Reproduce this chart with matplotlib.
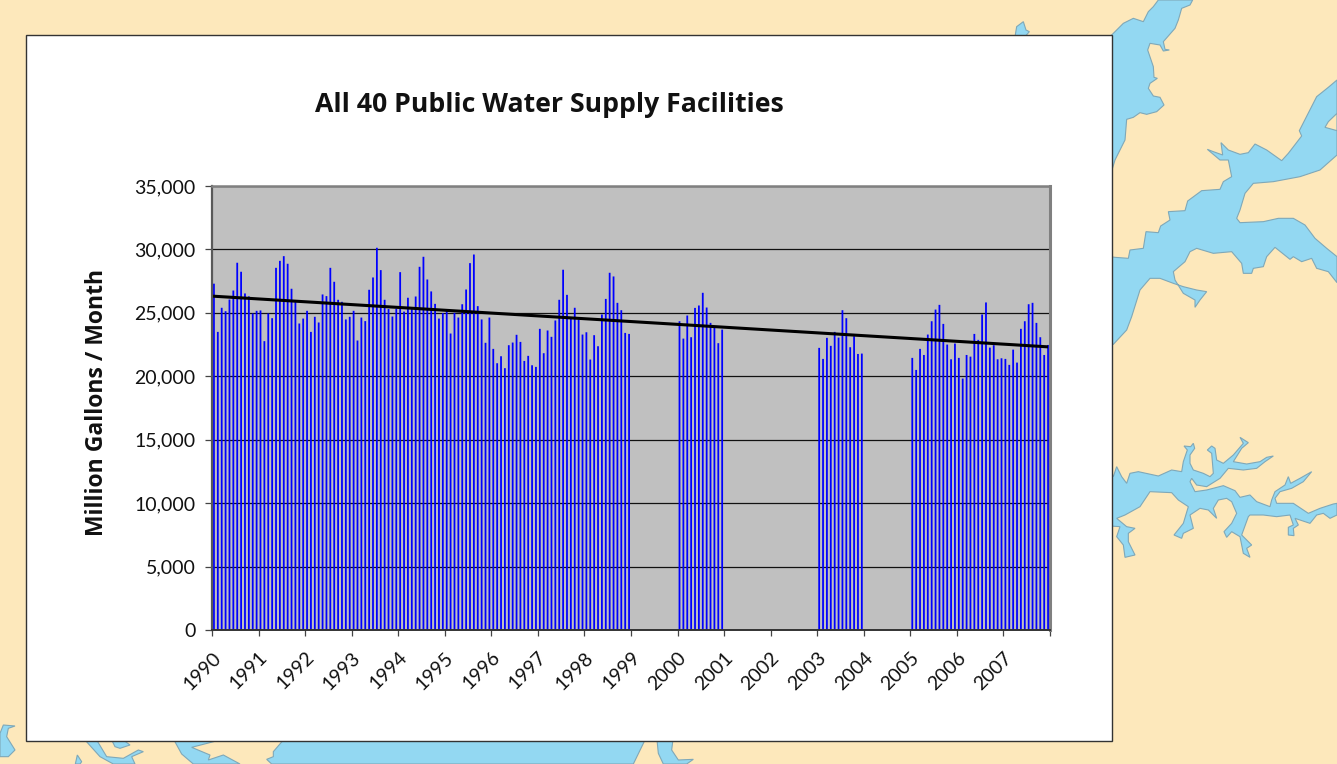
import matplotlib
matplotlib.use("Agg")
import matplotlib.pyplot as plt
from matplotlib.patches import Polygon, Rectangle

plt.rcParams["font.family"] = ["Lato", "DejaVu Sans"]

# Monthly totals, Million Gallons / Month
v1990 = [27300, 23500, 25400, 25130, 26050, 26760, 28950, 28240, 26530, 26300, 24950, 25160]
v1991 = [25190, 22770, 24950, 24580, 28550, 29100, 29470, 28870, 26900, 25850, 24160, 24550]
v1992 = [25160, 23500, 24690, 24240, 26450, 26320, 28550, 27450, 26030, 25870, 24480, 24690]
v1993 = [25160, 22820, 24630, 24350, 26820, 27790, 30130, 28370, 26030, 25300, 24710, 25320]
v1994 = [28210, 25100, 26190, 25290, 26290, 28630, 29420, 27630, 26690, 25710, 24550, 24980]
v1995 = [25160, 23370, 25000, 24630, 25680, 26840, 28920, 29600, 25530, 24480, 22640, 24630]
v1996 = [22160, 21030, 21580, 20640, 22450, 22660, 23270, 22710, 21210, 21610, 20870, 20740]
v1997 = [23740, 21820, 23610, 23110, 24400, 26030, 28400, 26420, 24530, 25400, 24480, 23290]
v1998 = [23470, 21320, 23240, 22370, 24870, 26100, 28160, 27870, 25790, 25210, 23420, 23340]
v2000 = [24340, 22970, 24790, 23080, 25390, 25580, 26580, 25420, 24210, 23820, 22610, 23680]
v2003 = [22240, 21370, 23030, 22400, 23500, 23050, 25210, 24580, 22290, 23160, 21760, 21790]
v2005 = [21450, 20500, 22160, 21680, 23290, 24340, 25260, 25630, 24130, 22500, 21340, 22580]
v2006 = [21450, 19820, 21680, 21550, 23340, 22870, 24870, 25820, 22260, 22450, 21340, 21420]
v2007 = [21370, 20900, 22100, 21080, 23740, 24340, 25680, 25790, 24210, 23080, 21680, 22470]

years = list(range(1990, 2008))
year_values = {1990: v1990, 1991: v1991, 1992: v1992, 1993: v1993, 1994: v1994, 1995: v1995,
               1996: v1996, 1997: v1997, 1998: v1998, 2000: v2000, 2003: v2003,
               2005: v2005, 2006: v2006, 2007: v2007}
y_ticks = [0, 5000, 10000, 15000, 20000, 25000, 30000, 35000]
trend_values = [26320, 22320]

WATER = "#93D8F2"
LAND = "#FDE8BB"
SHORE = "#7FA8B8"

upper_bay = [(330, 110), (370, 70), (400, 55), (430, 65), (445, 35), (460, 20), (475, 0), (578, 0), (570, 15),
             (545, 25), (535, 60), (525, 85), (490, 125), (495, 148), (508, 150), (490, 153), (480, 135), (450, 130),
             (443, 150), (460, 200), (462, 232), (472, 235), (450, 250), (445, 265), (460, 288), (480, 292), (492, 315),
             (470, 335), (440, 343), (420, 338), (400, 352), (380, 358), (375, 420), (345, 480), (330, 530)]
main_arm = [(330, 770), (345, 772), (385, 775), (390, 750), (430, 745), (438, 695), (475, 698), (482, 678), (510, 660),
            (505, 635), (555, 632), (563, 603), (605, 572), (660, 568), (670, 545), (695, 530), (685, 480), (660, 480),
            (622, 448), (640, 455), (668, 465), (663, 428), (685, 450), (720, 463), (745, 458), (765, 432), (800, 450),
            (845, 482), (865, 460), (905, 408), (898, 392), (950, 290), (985, 262), (1011, 240), (1011, 465), (960, 510),
            (900, 530), (820, 545), (760, 550), (735, 580), (720, 630), (710, 655), (720, 668), (790, 665), (835, 655),
            (880, 655), (915, 675), (945, 715), (980, 745), (1011, 770), (1011, 848), (985, 815), (950, 805), (935, 775),
            (905, 785), (880, 770), (870, 778), (825, 742), (800, 770), (790, 800), (760, 805), (755, 820), (730, 820),
            (725, 790), (695, 755), (640, 760), (590, 745), (570, 755), (555, 785), (520, 815), (525, 840), (550, 880),
            (585, 900), (585, 922), (600, 900), (620, 875), (590, 870), (550, 860), (520, 850), (480, 835), (450, 835),
            (420, 870), (395, 950), (380, 990), (340, 1033), (330, 1033)]
arm_island = [(1011, 340), (985, 365), (975, 382), (1011, 392)]
top_spot = [(45, 110), (50, 80), (70, 65), (78, 90), (88, 95), (75, 110)]
lower_lake = [(30, 145), (40, 170), (50, 140), (65, 170), (80, 190), (90, 160), (115, 155), (175, 168), (215, 150),
              (245, 155), (250, 125), (262, 90), (252, 78), (272, 80), (280, 70), (284, 85), (270, 105), (270, 130),
              (280, 150), (310, 160), (330, 170), (340, 160), (335, 100), (322, 90), (335, 78), (345, 85), (350, 120),
              (370, 130), (400, 105), (430, 70), (420, 52), (445, 68), (425, 85), (400, 125), (440, 132), (480, 125),
              (500, 112), (520, 108), (495, 125), (470, 145), (430, 150), (385, 145), (360, 175), (320, 200), (290, 195),
              (275, 175), (270, 185), (285, 215), (320, 210), (370, 197), (405, 212), (420, 232), (450, 225), (470, 245),
              (510, 260), (515, 240), (525, 215), (555, 195), (565, 170), (572, 190), (600, 175), (635, 155), (610, 185),
              (575, 205), (540, 215), (525, 235), (530, 250), (580, 250), (625, 280), (660, 265), (700, 252), (711, 250),
              (711, 285), (690, 295), (670, 280), (650, 285), (630, 310), (600, 300), (585, 295), (595, 315), (580, 325),
              (582, 347), (565, 345), (565, 322), (580, 315), (570, 285), (530, 290), (490, 285), (450, 285), (445, 290),
              (425, 345), (455, 375), (440, 385), (450, 412), (430, 400), (420, 350), (395, 335), (380, 352), (372, 335),
              (395, 310), (410, 280), (395, 245), (380, 235), (355, 240), (340, 265), (350, 295), (325, 270), (300, 265),
              (270, 285), (280, 325), (250, 340), (245, 355), (222, 345), (250, 310), (265, 260), (235, 240), (215, 218),
              (150, 215), (120, 260), (75, 285), (50, 295), (80, 320), (105, 325), (85, 340), (85, 365), (105, 405),
              (75, 412), (70, 375), (50, 350), (60, 320), (30, 318)]
hook = [(0, 400), (10, 375), (45, 378), (25, 385), (20, 410), (45, 450), (25, 470), (0, 470)]
creek_a = [(255, 420), (290, 420), (320, 470), (370, 475), (415, 450), (430, 455), (395, 470), (405, 492), (340, 492), (300, 470)]
creek_b = [(335, 420), (370, 420), (390, 435), (360, 445), (345, 440)]
creek_c = [(226, 492), (232, 465), (245, 485), (240, 492)]
south_bay = [(522, 420), (545, 462), (580, 492), (720, 492), (670, 465), (625, 480), (630, 465), (575, 442), (660, 420)]
south_main = [(850, 420), (820, 455), (820, 470), (800, 478), (815, 492), (1900, 492), (1935, 420)]
south_creek = [(770, 380), (820, 380), (815, 420), (835, 450), (880, 448), (860, 462), (790, 462), (775, 430)]


def crop_shape(points, x0, y0):
    return [(x0 + x / 3, y0 + y / 3) for x, y in points]


fig = plt.figure(figsize=(13.37, 7.64), dpi=100)

# Whole-figure axes in pixels for the map and the white panel
bg = fig.add_axes([0, 0, 1, 1])
bg.set_xlim(0, 1337)
bg.set_ylim(764, 0)
bg.axis("off")
bg.add_patch(Rectangle((0, 0), 1337, 764, facecolor=LAND, edgecolor="none"))
for pts, x0, y0 in [(upper_bay, 1000, 0), (main_arm, 1000, 0), (top_spot, 1000, 0), (lower_lake, 1100, 420),
                    (hook, 0, 600), (creek_a, 0, 600), (creek_b, 0, 600), (creek_c, 0, 600), (south_bay, 0, 600),
                    (south_main, 0, 600), (south_creek, 400, 610)]:
    bg.add_patch(Polygon(crop_shape(pts, x0, y0), closed=True, facecolor=WATER, edgecolor=SHORE, linewidth=0.8))
bg.add_patch(Polygon(crop_shape(arm_island, 1000, 0), closed=True, facecolor=LAND, edgecolor=SHORE, linewidth=0.8))
bg.add_patch(Rectangle((26, 35), 1086, 706, facecolor="white", edgecolor="#333333", linewidth=1.0))

# Chart axes: x is months since Jan 1990
ax = fig.add_axes([212 / 1337, 1 - 630 / 764, 838 / 1337, 444 / 764])
ax.set_facecolor("#C0C0C0")
ax.set_xlim(0, 12 * len(years))
ax.set_ylim(0, 35000)
ax.set_axisbelow(True)
ax.grid(axis="y", color="#111111", linewidth=0.9)

for year, values in year_values.items():
    start = (year - years[0]) * 12
    xs = [start + m + 0.5 for m in range(12)]
    ax.bar(xs, values, width=0.46, color="#0000FF", linewidth=0, snap=False)

ax.plot([0, 12 * len(years) - 0.5], trend_values, color="black", linewidth=2.2, solid_capstyle="butt")

ax.set_yticks(y_ticks)
ax.set_yticklabels([f"{v:,}" for v in y_ticks], fontsize=14, color="#111111")
ax.set_xticks([i * 12 for i in range(len(years) + 1)])
ax.set_xticklabels([str(y) for y in years] + [""], fontsize=14, color="#111111", rotation=45,
                   ha="right", va="top", rotation_mode="anchor")
ax.tick_params(axis="y", length=5, width=0.9, color="#444444", pad=7)
ax.tick_params(axis="x", length=4.5, width=0.9, color="#444444", pad=9)

ax.spines["left"].set_color("#595959")
ax.spines["left"].set_linewidth(1.6)
ax.spines["bottom"].set_color("#333333")
ax.spines["bottom"].set_linewidth(1.4)
ax.spines["top"].set_color("#808080")
ax.spines["top"].set_linewidth(1.8)
ax.spines["right"].set_color("#808080")
ax.spines["right"].set_linewidth(2.2)

ax.set_ylabel("Million Gallons / Month", fontsize=16.5, fontweight="bold", family="Open Sans", color="#111111")
ax.yaxis.set_label_coords((109 - 212) / 838, (630 - 402) / 444)
ax.text((549 - 212) / 838, (630 - 105) / 444, "All 40 Public Water Supply Facilities", transform=ax.transAxes,
        fontsize=19.2, fontweight="bold", family="Open Sans", color="#111111", ha="center", va="center")

fig.savefig("out.png", dpi=100)
